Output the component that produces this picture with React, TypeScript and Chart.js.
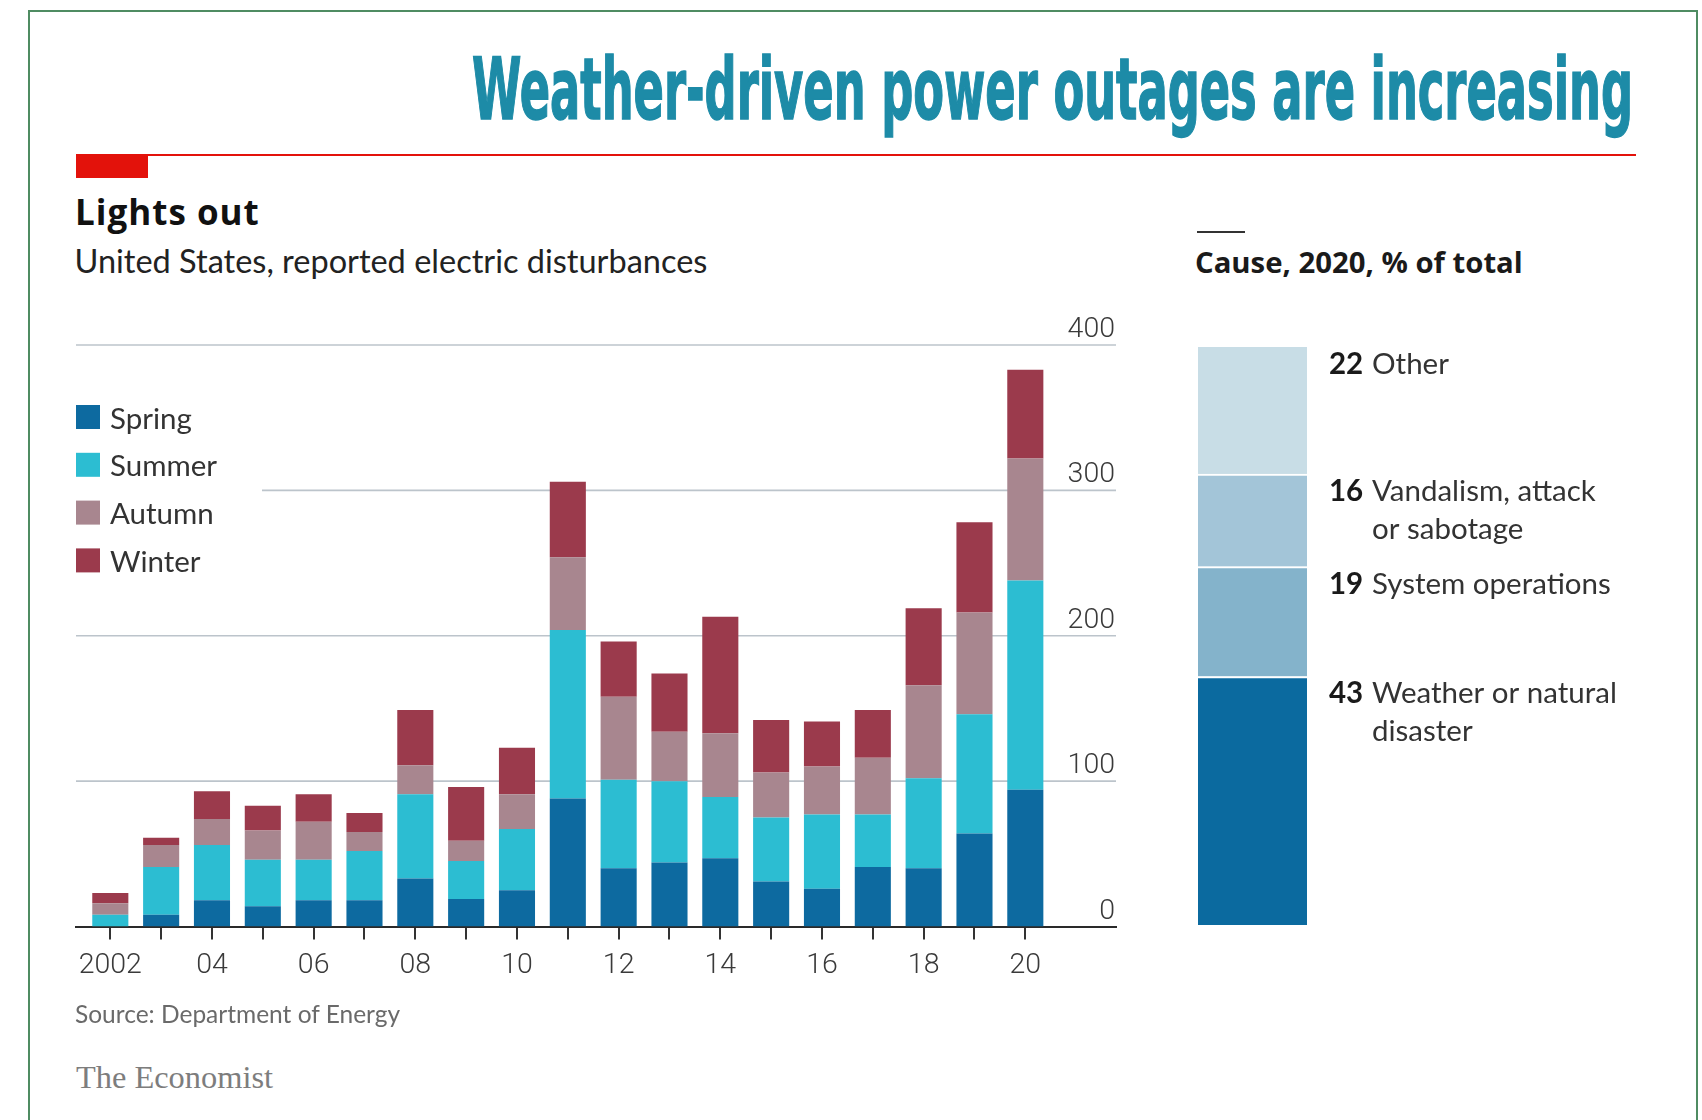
import React, { useEffect, useRef } from "react";
import { Chart, registerables } from "chart.js";

Chart.register(...registerables);

// ---------------- data ----------------
const years = [2002, 2003, 2004, 2005, 2006, 2007, 2008, 2009, 2010, 2011, 2012, 2013, 2014, 2015, 2016, 2017, 2018, 2019, 2020];
const xTickLabels = ["2002", "", "04", "", "06", "", "08", "", "10", "", "12", "", "14", "", "16", "", "18", "", "20"];
const yTickValues = [0, 100, 200, 300, 400];
const yTickLabels = ["0", "100", "200", "300", "400"];

const seasonNames = ["Spring", "Summer", "Autumn", "Winter"];
const spring = [0, 8, 18, 14, 18, 18, 33, 19, 25, 88, 40, 44, 47, 31, 26, 41, 40, 64, 94];
const summer = [8, 33, 38, 32, 28, 34, 58, 26, 42, 116, 61, 56, 42, 44, 51, 36, 62, 82, 144];
const autumn = [8, 15, 18, 20, 26, 13, 20, 14, 24, 50, 57, 34, 44, 31, 33, 39, 64, 70, 84];
const winter = [7, 5, 19, 17, 19, 13, 38, 37, 32, 52, 38, 40, 80, 36, 31, 33, 53, 62, 61];
const seasonColors = ["#0d6aa0", "#2cbdd2", "#a8868f", "#9b3a4c"];

// Cause, 2020, % of total (bottom to top)
const causeNames = ["Weather or natural disaster", "System operations", "Vandalism, attack or sabotage", "Other"];
const causeShares = [43, 19, 16, 22];
const causeLabelLines = [["Weather or natural", "disaster"], ["System operations"], ["Vandalism, attack", "or sabotage"], ["Other"]];
const causeColors = ["#0b6a9f", "#84b3cb", "#a3c5d8", "#c8dde6"];

// ---------------- layout ----------------
const PAGE_W = 1702;
const PAGE_H = 1120;
const MAIN = { left: 0, top: 280, width: 1180, height: 730 };
const MAIN_AREA = { left: 76, top: 345, right: 1116, bottom: 926.5 };
const X_MIN = 2001.325;
const X_MAX = 2021.784;
const LEGEND_X = 76;
const LEGEND_TOP = 405;
const LEGEND_STEP = 47.8;
const GRID300_START = 262;
const CAUSE = { left: 1190, top: 330, width: 510, height: 620 };
const CAUSE_AREA = { left: 1198, top: 347, right: 1307, bottom: 925 };
const CAUSE_NUM_X = 1329;
const CAUSE_TEXT_X = 1372;

const TEAL = "#1d8ba7";
const RED = "#e3120b";
const LABEL_FONT = "Lato";
const TICK_FONT = "Roboto";

let measureCtx: CanvasRenderingContext2D | null = null;
function getCtx() {
  if (!measureCtx) measureCtx = document.createElement("canvas").getContext("2d");
  return measureCtx!;
}
// top of a line box (line-height = size) so that the alphabetic baseline lands on `baseline`
function topFor(baseline: number, family: string, size: number, weight: number | string) {
  const ctx = getCtx();
  ctx.font = `${weight} ${size}px "${family}"`;
  const m = ctx.measureText("Hg");
  const A = m.fontBoundingBoxAscent;
  const D = m.fontBoundingBoxDescent;
  return baseline - (size + A - D) / 2;
}
function widthOf(text: string, family: string, size: number, weight: number | string) {
  const ctx = getCtx();
  ctx.font = `${weight} ${size}px "${family}"`;
  return ctx.measureText(text).width;
}

type TextProps = {
  text: string;
  x: number;
  baseline: number;
  family: string;
  size: number;
  weight?: number;
  color: string;
  letterSpacing?: number;
  scaleX?: number;
  stroke?: number;
};
function Txt({ text, x, baseline, family, size, weight = 400, color, letterSpacing, scaleX, stroke }: TextProps) {
  const top = topFor(baseline, family, size, weight);
  return (
    <div
      style={{
        position: "absolute",
        left: x,
        top,
        fontFamily: `"${family}"`,
        fontSize: size,
        fontWeight: weight,
        lineHeight: `${size}px`,
        color,
        whiteSpace: "nowrap",
        letterSpacing: letterSpacing ? `${letterSpacing}px` : undefined,
        transform: scaleX ? `scaleX(${scaleX})` : undefined,
        transformOrigin: "left top",
        WebkitTextStroke: stroke ? `${stroke}px ${color}` : undefined,
      }}
    >
      {text}
    </div>
  );
}

function MainChart() {
  const ref = useRef<HTMLCanvasElement>(null);
  useEffect(() => {
    const canvas = ref.current!;
    const offX = MAIN.left;
    const offY = MAIN.top;
    const target = {
      left: MAIN_AREA.left - offX,
      top: MAIN_AREA.top - offY,
      right: MAIN_AREA.right - offX,
      bottom: MAIN_AREA.bottom - offY,
    };
    const econPlugin = {
      id: "econMain",
      beforeDatasetsDraw(chart: any) {
        const { ctx, chartArea, scales } = chart;
        const ys = scales.y;
        ctx.save();
        yTickValues.forEach((v, i) => {
          const y = ys.getPixelForValue(v);
          if (v !== 0) {
            const x0 = v === 300 ? GRID300_START - offX : chartArea.left;
            ctx.strokeStyle = "#bcc4cb";
            ctx.lineWidth = 1.6;
            ctx.beginPath();
            ctx.moveTo(x0, y);
            ctx.lineTo(chartArea.right, y);
            ctx.stroke();
          }
          ctx.fillStyle = "#3a3a3a";
          ctx.font = `300 28.5px "${TICK_FONT}"`;
          ctx.textAlign = "right";
          ctx.textBaseline = "alphabetic";
          ctx.fillText(yTickLabels[i], chartArea.right - 1, y - 8);
        });
        ctx.restore();
      },
      afterDraw(chart: any) {
        const ctx = chart.ctx;
        ctx.save();
        chart.data.datasets.forEach((ds: any, i: number) => {
          const top = LEGEND_TOP - offY + i * LEGEND_STEP;
          ctx.fillStyle = ds.backgroundColor;
          ctx.fillRect(LEGEND_X - offX, top, 24, 24);
          ctx.fillStyle = "#333333";
          ctx.font = `400 29.5px "${LABEL_FONT}"`;
          ctx.textAlign = "left";
          ctx.textBaseline = "alphabetic";
          ctx.fillText(ds.label, LEGEND_X - offX + 34, top + 23.5);
        });
        ctx.restore();
      },
    };
    const seriesValues = [spring, summer, autumn, winter];
    const config: any = {
      type: "bar",
      data: {
        datasets: seasonNames.map((name, k) => ({
          label: name,
          data: years.map((yr, i) => ({ x: yr, y: seriesValues[k][i] })),
          backgroundColor: seasonColors[k],
          borderWidth: 0,
          barPercentage: 0.71,
          categoryPercentage: 1,
        })),
      },
      options: {
        responsive: false,
        animation: false,
        events: [],
        layout: { padding: { left: 76, top: 65, right: 64, bottom: 20 } },
        scales: {
          x: {
            type: "linear",
            min: X_MIN,
            max: X_MAX,
            offset: false,
            stacked: true,
            z: 1,
            afterBuildTicks: (scale: any) => {
              scale.ticks = years.map((v) => ({ value: v }));
            },
            ticks: {
              autoSkip: false,
              maxRotation: 0,
              minRotation: 0,
              padding: 9,
              color: "#3a3a3a",
              font: { family: TICK_FONT, size: 28.5, weight: "300" },
              callback: (_v: any, index: number) => xTickLabels[index] ?? "",
            },
            grid: {
              display: true,
              offset: false,
              drawOnChartArea: false,
              drawTicks: true,
              tickLength: 13,
              tickColor: "#333333",
              tickWidth: 2,
              color: "#333333",
              lineWidth: 2,
            },
            border: { display: true, color: "#2a2a2a", width: 2 },
          },
          y: { type: "linear", min: 0, max: 400, stacked: true, display: false },
        },
        plugins: { legend: { display: false }, tooltip: { enabled: false } },
      },
      plugins: [econPlugin],
    };
    const chart = new Chart(canvas, config);
    const ca = chart.chartArea;
    const p = { left: 76, top: 65, right: 64, bottom: 20 };
    const np = {
      left: p.left + (target.left - ca.left),
      top: p.top + (target.top - ca.top),
      right: p.right + (ca.right - target.right),
      bottom: p.bottom + (ca.bottom - target.bottom),
    };
    (chart.options as any).layout.padding = np;
    chart.update();
    return () => chart.destroy();
  }, []);
  return (
    <canvas
      ref={ref}
      width={MAIN.width}
      height={MAIN.height}
      style={{ position: "absolute", left: MAIN.left, top: MAIN.top, width: MAIN.width, height: MAIN.height }}
    />
  );
}

function CauseChart() {
  const ref = useRef<HTMLCanvasElement>(null);
  useEffect(() => {
    const canvas = ref.current!;
    const offX = CAUSE.left;
    const offY = CAUSE.top;
    const labelPlugin = {
      id: "causeLabels",
      afterDraw(chart: any) {
        const { ctx, scales } = chart;
        ctx.save();
        ctx.textAlign = "left";
        ctx.textBaseline = "alphabetic";
        let cum = 0;
        causeShares.forEach((v, i) => {
          cum += v;
          const yTop = scales.y.getPixelForValue(cum);
          ctx.fillStyle = "#1a1a1a";
          ctx.font = `700 29.5px "${LABEL_FONT}"`;
          ctx.fillText(String(v), CAUSE_NUM_X - offX, yTop + 27);
          ctx.fillStyle = "#333333";
          ctx.font = `400 29.5px "${LABEL_FONT}"`;
          causeLabelLines[i].forEach((ln, j) => {
            ctx.fillText(ln, CAUSE_TEXT_X - offX, yTop + 27 + j * 38);
          });
        });
        ctx.restore();
      },
    };
    const config: any = {
      type: "bar",
      data: {
        labels: ["2020"],
        datasets: causeNames.map((name, i) => ({
          label: name,
          data: [causeShares[i]],
          backgroundColor: causeColors[i],
          borderColor: "#ffffff",
          borderWidth: { top: i === causeNames.length - 1 ? 0 : 2, right: 0, bottom: 0, left: 0 },
          borderSkipped: false,
          barPercentage: 1,
          categoryPercentage: 1,
        })),
      },
      options: {
        responsive: false,
        animation: false,
        events: [],
        layout: {
          padding: {
            left: CAUSE_AREA.left - offX,
            top: CAUSE_AREA.top - offY,
            right: offX + CAUSE.width - CAUSE_AREA.right,
            bottom: offY + CAUSE.height - CAUSE_AREA.bottom,
          },
        },
        scales: {
          x: { display: false, stacked: true },
          y: { display: false, stacked: true, min: 0, max: 100 },
        },
        plugins: { legend: { display: false }, tooltip: { enabled: false } },
      },
      plugins: [labelPlugin],
    };
    const chart = new Chart(canvas, config);
    return () => chart.destroy();
  }, []);
  return (
    <canvas
      ref={ref}
      width={CAUSE.width}
      height={CAUSE.height}
      style={{ position: "absolute", left: CAUSE.left, top: CAUSE.top, width: CAUSE.width, height: CAUSE.height }}
    />
  );
}

const TITLE = "Weather-driven power outages are increasing";

export default function App() {
  const titleScale = 1161 / widthOf(TITLE, "DejaVu Sans Condensed", 86, 700);
  return (
    <div
      style={{
        position: "absolute",
        left: 0,
        top: 0,
        width: PAGE_W,
        height: PAGE_H,
        overflow: "hidden",
        background: "#ffffff",
      }}
    >
      {/* frame */}
      <div
        style={{
          position: "absolute",
          left: 28,
          top: 10,
          width: 1666,
          height: 1300,
          borderTop: "2px solid #4f8c62",
          borderLeft: "2px solid #4f8c62",
          borderRight: "2px solid #4f8c62",
        }}
      />
      <Txt text={TITLE} x={472} baseline={119.3} family="DejaVu Sans Condensed" size={86} weight={700} color={TEAL} scaleX={titleScale} stroke={1.5} />
      {/* red rule and tag */}
      <div style={{ position: "absolute", left: 76, top: 154, width: 1560, height: 2, background: RED }} />
      <div style={{ position: "absolute", left: 76, top: 155, width: 72, height: 23, background: RED }} />
      <Txt text="Lights out" x={75} baseline={225} family="Open Sans" size={35} weight={700} color="#111111" letterSpacing={1} />
      <Txt text="United States, reported electric disturbances" x={74.5} baseline={273.5} family="Lato" size={32.5} color="#222222" />
      {/* right panel header */}
      <div style={{ position: "absolute", left: 1197, top: 231, width: 48, height: 2, background: "#333333" }} />
      <Txt text="Cause, 2020, % of total" x={1195} baseline={274} family="Open Sans" size={29.3} weight={700} color="#1a1a1a" />
      <MainChart />
      <CauseChart />
      <Txt text="Source: Department of Energy" x={75} baseline={1023.3} family="Lato" size={24.5} color="#6a6a6a" />
      <Txt text="The Economist" x={76} baseline={1088.3} family="Liberation Serif" size={32.4} color="#7d7d7d" />
    </div>
  );
}
